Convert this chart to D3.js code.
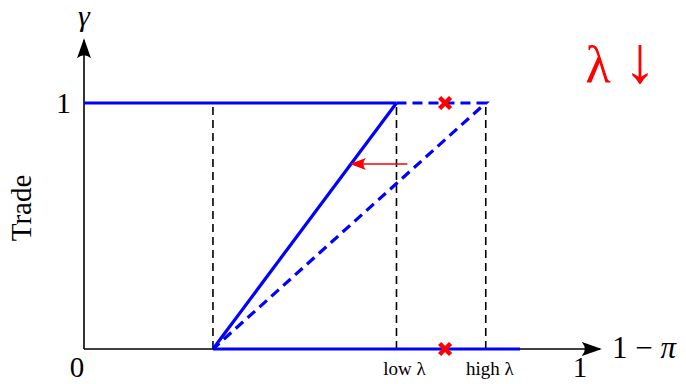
<!DOCTYPE html>
<html>
<head>
<meta charset="utf-8">
<script src="https://cdn.jsdelivr.net/npm/d3@7"></script>
<style>
  html, body { margin: 0; padding: 0; background: #fff; }
  svg { display: block; }
  text { font-family: "Liberation Serif", "DejaVu Serif", serif; }
</style>
</head>
<body>
<svg id="chart" width="686" height="384"></svg>
<script>
// Thresholds on the 1 - π axis
const threshold = 0.26;       // trade starts rising here
const lowLambda = 0.63;       // full trade reached under low λ
const highLambda = 0.81;      // full trade reached under high λ
const baseEnd = 0.879;        // end of the zero-trade segment
const crossX = 0.728;         // marked point

// Trade schedules (x = 1 - π, y = γ)
const solidTop = [[0, 1], [lowLambda, 1]];
const solidRamp = [[threshold, 0], [lowLambda, 1]];
const solidBase = [[threshold, 0], [baseEnd, 0]];
const dashedTop = [[lowLambda, 1], [highLambda, 1]];
const dashedRamp = [[threshold, 0], [highLambda, 1]];

// Vertical guide positions
const guides = [threshold, lowLambda, highLambda];

// Axis annotations
const xTickLabels = [{ v: 0, t: "0" }, { v: 1, t: "1" }];
const yTickLabels = [{ v: 1, t: "1" }];
const lambdaLabels = [{ v: lowLambda, t: "low λ" }, { v: highLambda, t: "high λ" }];

const svg = d3.select("#chart");
const x = d3.scaleLinear().domain([0, 1]).range([84, 580]);
const y = d3.scaleLinear().domain([0, 1]).range([349, 103]);

const defs = svg.append("defs");
defs.append("marker")
  .attr("id", "axisHead").attr("viewBox", "0 0 20 14")
  .attr("refX", 18).attr("refY", 7)
  .attr("markerWidth", 20).attr("markerHeight", 14)
  .attr("markerUnits", "userSpaceOnUse").attr("orient", "auto")
  .append("path").attr("d", "M0,0 Q6,7 0,14 L20,7 Z").attr("fill", "#000");
defs.append("marker")
  .attr("id", "redHead").attr("viewBox", "0 0 16 12")
  .attr("refX", 14).attr("refY", 6)
  .attr("markerWidth", 16).attr("markerHeight", 12)
  .attr("markerUnits", "userSpaceOnUse").attr("orient", "auto")
  .append("path").attr("d", "M0,0 Q5,6 0,12 L16,6 Z").attr("fill", "#ff0000");

const line = d3.line().x(d => x(d[0])).y(d => y(d[1]));

// Guides
svg.append("g").selectAll("line").data(guides).join("line")
  .attr("x1", d => x(d)).attr("x2", d => x(d))
  .attr("y1", y(0)).attr("y2", y(1))
  .attr("stroke", "#000").attr("stroke-width", 1.6)
  .attr("stroke-dasharray", "8,5");

// Axes
svg.append("line")
  .attr("x1", x(0)).attr("x2", x(1.04))
  .attr("y1", y(0)).attr("y2", y(0))
  .attr("stroke", "#000").attr("stroke-width", 1.6)
  .attr("marker-end", "url(#axisHead)");
svg.append("line")
  .attr("x1", x(0)).attr("x2", x(0))
  .attr("y1", y(0)).attr("y2", y(1.255))
  .attr("stroke", "#000").attr("stroke-width", 1.6)
  .attr("marker-end", "url(#axisHead)");

// Schedules
const blue = "#0000ff";
[solidTop, solidRamp, solidBase].forEach(d => {
  svg.append("path").attr("d", line(d))
    .attr("fill", "none").attr("stroke", blue).attr("stroke-width", 3.2)
    .attr("stroke-linejoin", "miter");
});
svg.append("path").attr("d", line([dashedTop[0], dashedTop[1], dashedRamp[0]]))
  .attr("fill", "none").attr("stroke", blue).attr("stroke-width", 3.2)
  .attr("stroke-dasharray", "10,6").attr("stroke-linejoin", "miter");

// Shift arrow
svg.append("line")
  .attr("x1", x(0.652)).attr("x2", x(0.54))
  .attr("y1", y(0.752)).attr("y2", y(0.752))
  .attr("stroke", "#ff0000").attr("stroke-width", 1.6)
  .attr("marker-end", "url(#redHead)");

// Crosses
const cross = (cx, cy) => {
  const s = 5.5;
  svg.append("path")
    .attr("d", `M${cx - s},${cy - s}L${cx + s},${cy + s}M${cx - s},${cy + s}L${cx + s},${cy - s}`)
    .attr("stroke", "#ff0000").attr("stroke-width", 4.5).attr("stroke-linecap", "butt");
};
cross(x(crossX), y(1));
cross(x(crossX), y(0));

// Text
svg.selectAll("text.xt").data(xTickLabels).join("text").attr("class", "xt")
  .attr("x", d => x(d.v) - (d.v === 0 ? 7 : 0)).attr("y", 377)
  .attr("text-anchor", "middle").attr("font-size", 29).text(d => d.t);
svg.selectAll("text.yt").data(yTickLabels).join("text").attr("class", "yt")
  .attr("x", 71).attr("y", 113)
  .attr("text-anchor", "end").attr("font-size", 30).text(d => d.t);
svg.selectAll("text.lam").data(lambdaLabels).join("text").attr("class", "lam")
  .attr("x", d => x(d.v) + (d.v === lowLambda ? 8 : 4)).attr("y", 375)
  .attr("text-anchor", "middle").attr("font-size", 19).text(d => d.t);

svg.append("text").attr("x", 612).attr("y", 358)
  .attr("font-size", 31).text("1 − ").append("tspan")
  .attr("font-style", "italic").text("π");
svg.append("text").attr("x", 84).attr("y", 26)
  .attr("text-anchor", "middle").attr("font-size", 30).attr("font-style", "italic").text("γ");
svg.append("text")
  .attr("transform", `translate(31,208) rotate(-90)`)
  .attr("text-anchor", "middle").attr("font-size", 29).text("Trade");
const lam = svg.append("text").attr("x", 621).attr("y", 82)
  .attr("text-anchor", "middle").attr("fill", "#ff0000");
lam.append("tspan").attr("font-size", 52).text("λ ");
lam.append("tspan").attr("font-size", 66).text("↓");
</script>
</body>
</html>
